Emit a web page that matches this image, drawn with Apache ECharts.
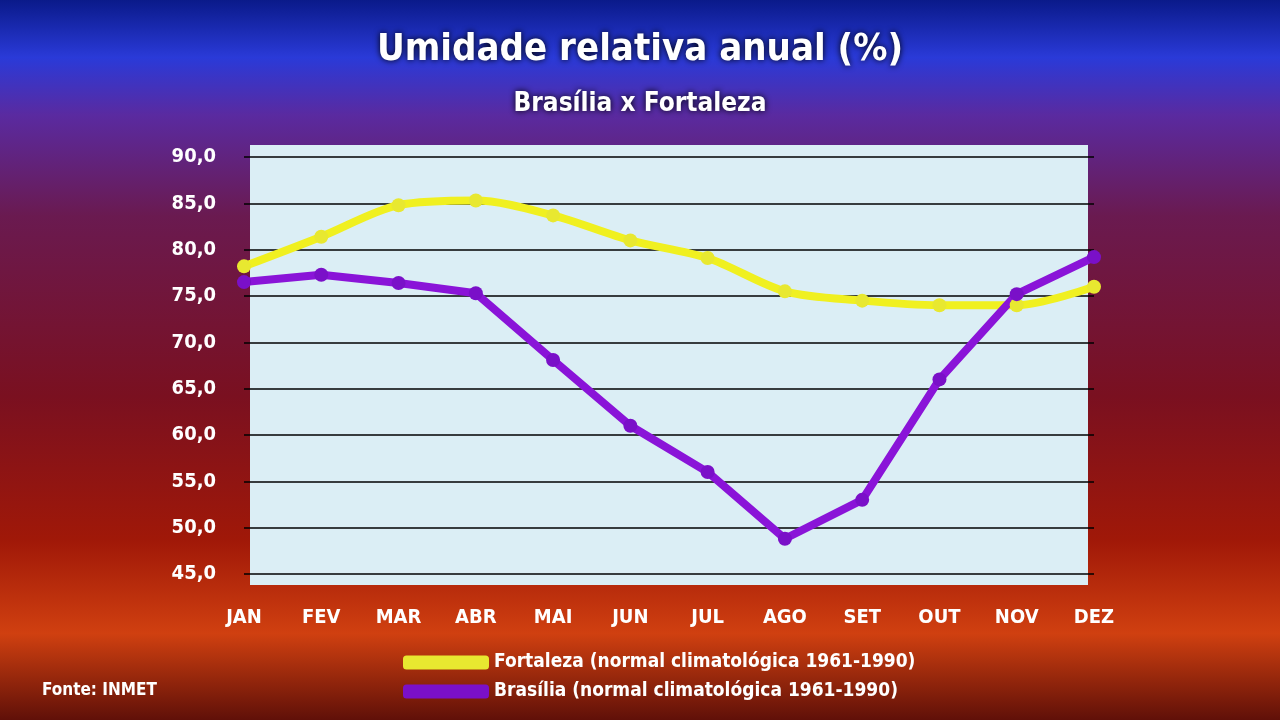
<!DOCTYPE html>
<html><head><meta charset="utf-8">
<script src="https://cdn.jsdelivr.net/npm/echarts@6/dist/echarts.min.js"></script>
<style>
html,body{margin:0;padding:0;width:1280px;height:720px;overflow:hidden}
#c{width:1280px;height:720px;background:linear-gradient(180deg,#0a1a8a 0%,#2a3ad8 8%,#5a2aa0 16%,#6a1a50 30%,#7a1020 55%,#a01808 75%,#d04010 88%,#601008 100%)}
</style></head>
<body><div id="c"></div>
<script>
var months = ['JAN','FEV','MAR','ABR','MAI','JUN','JUL','AGO','SET','OUT','NOV','DEZ'];
var fortaleza = [78.2,81.4,84.8,85.3,83.7,81.0,79.1,75.5,74.5,74.0,74.0,76.0];
var brasilia = [76.5,77.3,76.4,75.3,68.1,61.0,56.0,48.8,53.0,66.0,75.2,79.2];
var font = '"Liberation Sans Narrow","DejaVu Sans Condensed",sans-serif';

var chart = echarts.init(document.getElementById('c'));
var option = {
  textStyle: {fontFamily: font},
  title: [
    {text: 'Umidade relativa anual (%)', left: 'center', top: 26,
     textStyle: {color: '#fff', fontSize: 38, fontWeight: 'bold', fontFamily: font, textShadowColor: '#000', textShadowBlur: 6}},
    {text: 'Brasília x Fortaleza', left: 'center', top: 86,
     textStyle: {color: '#fff', fontSize: 26, fontWeight: 'bold', fontFamily: font, textShadowColor: '#000', textShadowBlur: 6}},
    {text: 'Fonte: INMET', left: 37, top: 677,
     textStyle: {color: '#fff', fontSize: 17, fontWeight: 'bold', fontFamily: font}}
  ],
  graphic: [{type: 'rect', z: -1, shape: {x: 250, y: 145, width: 838, height: 440}, style: {fill: '#dbeef5'}}],
  grid: {left: 244, right: 186, top: 157, bottom: 146},
  legend: {
    orient: 'vertical', left: 398, top: 648, itemGap: 10, itemWidth: 86, itemHeight: 14,
    textStyle: {color: '#fff', fontSize: 19, fontWeight: 'bold', fontFamily: font},
    data: [{name: 'Fortaleza (normal climatológica 1961-1990)', icon: 'roundRect'},
           {name: 'Brasília (normal climatológica 1961-1990)', icon: 'roundRect'}]
  },
  xAxis: {
    type: 'category', data: months, boundaryGap: false,
    axisLine: {show: false}, axisTick: {show: false},
    axisLabel: {color: '#fff', fontSize: 20, fontWeight: 'bold', margin: 34, fontFamily: font}
  },
  yAxis: {
    type: 'value', min: 45, max: 90, interval: 5,
    axisLabel: {color: '#fff', fontSize: 20, fontWeight: 'bold', margin: 28, fontFamily: font,
      formatter: function (v) { return v.toFixed(1).replace('.', ','); }},
    splitLine: {lineStyle: {color: '#000', width: 1.5}}
  },
  series: [
    {name: 'Fortaleza (normal climatológica 1961-1990)', type: 'line', data: fortaleza,
     smooth: 0.3, symbol: 'circle', symbolSize: 14, color: '#f0f020',
     lineStyle: {width: 8, color: '#f0f020'}, itemStyle: {color: '#e8e830'}},
    {name: 'Brasília (normal climatológica 1961-1990)', type: 'line', data: brasilia,
     symbol: 'circle', symbolSize: 14, color: '#8a14d8',
     lineStyle: {width: 8, color: '#8a14d8'}, itemStyle: {color: '#7a10c8'}}
  ]
};
chart.setOption(option);
</script></body></html>
